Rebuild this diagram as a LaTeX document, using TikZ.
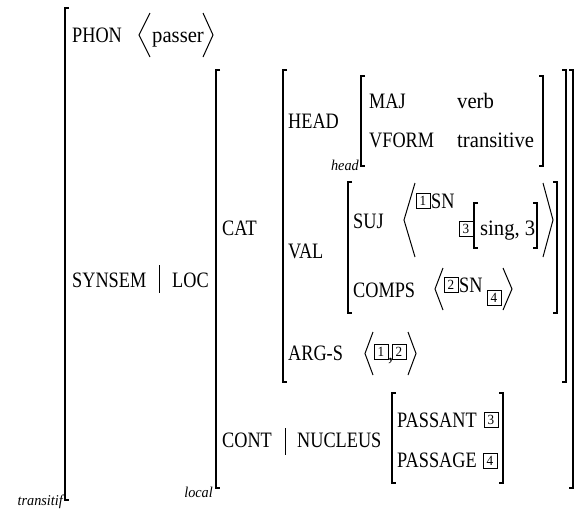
\documentclass[tikz,border=0pt]{standalone}
\usepackage{fontspec}
\setmainfont{Liberation Serif}
\newfontfamily\featfont[FakeStretch=0.83]{Liberation Serif}
\newfontfamily\valfont[FakeStretch=0.94]{Liberation Serif}
\newfontfamily\lblfont[FakeStretch=0.95]{Liberation Serif}
\tikzset{
  feat/.style={anchor=base west, inner sep=0pt, font=\featfont\fontsize{22}{22}\selectfont},
  val/.style={anchor=base west, inner sep=0pt, font=\valfont\fontsize{22}{22}\selectfont},
  lbl/.style={anchor=base east, inner sep=0pt, font=\lblfont\itshape\fontsize{15}{15}\selectfont},
  tag/.style={draw, line width=1pt, inner sep=0pt, minimum width=14pt, minimum height=15pt,
     font=\valfont\fontsize{14}{14}\selectfont},
  brk/.style={line width=1.6pt, line cap=butt, line join=miter},
  sbrk/.style={line width=1.2pt},
  ang/.style={line width=1pt, line join=miter},
  sep/.style={line width=1pt}
}
\newcommand{\LB}[3]{\draw[brk] (#1+4,#2) -- (#1,#2) -- (#1,#3) -- (#1+4,#3);}
\newcommand{\RB}[3]{\draw[brk] (#1-4,#2) -- (#1,#2) -- (#1,#3) -- (#1-4,#3);}
\newcommand{\SLB}[3]{\draw[sbrk] (#1+4,#2) -- (#1,#2) -- (#1,#3) -- (#1+4,#3);}
\newcommand{\SRB}[3]{\draw[sbrk] (#1-4,#2) -- (#1,#2) -- (#1,#3) -- (#1-4,#3);}
\newcommand{\LA}[4]{\draw[ang] (#2,#3) -- (#1,{(#3+#4)/2}) -- (#2,#4);}
\newcommand{\RA}[4]{\draw[ang] (#1,#3) -- (#2,{(#3+#4)/2}) -- (#1,#4);}
\begin{document}
\begin{tikzpicture}[x=1pt,y=-1pt]
\useasboundingbox[fill=white] (0,0) rectangle (576,512);
% outer AVM
\LB{65}{8}{500}
\node[lbl] (ltrans) at (63,505) {transitif};
\node[feat] (phon) at (72,42) {PHON};
\LA{139}{150}{13}{57}
\node[val] (passer) at (152,42) {passer};
\RA{203}{213}{13}{57}
\node[feat] (synsem) at (72,287) {SYNSEM};
\draw[sep] (159,265) -- (159,293);
\node[feat] (loc) at (172,287) {LOC};
% local
\LB{216}{70}{488}
\RB{573}{70}{488}
\node[lbl] (llocal) at (213,497) {local};
\node[feat] (cat) at (222,235) {CAT};
% CAT value
\LB{283}{70}{382}
\RB{566}{70}{382}
\node[feat] (head) at (288,128) {HEAD};
\LB{361}{76}{166}
\RB{543}{76}{166}
\node[lbl] (lhead) at (359,170) {head};
\node[feat] (maj) at (369,108) {MAJ};
\node[val] (verb) at (457,108) {verb};
\node[feat] (vform) at (369,147) {VFORM};
\node[val] (trans) at (457,147) {transitive};
% VAL
\node[feat] (valf) at (288,258) {VAL};
\LB{348}{182}{313}
\RB{557}{182}{313}
\node[feat] (suj) at (353,228) {SUJ};
\LA{404}{415}{183}{257}
\node[tag] (t1a) at (423,201) {1};
\node[feat] (sn1) at (431,208) {SN};
\node[tag] (t3a) at (466,229) {3};
\SLB{474}{203}{248}
\node[val] (sing) at (480,235) {sing, 3};
\SRB{537}{203}{248}
\RA{543}{553}{183}{257}
\node[feat] (comps) at (353,297) {COMPS};
\LA{435}{443}{268}{310}
\node[tag] (t2a) at (451,285) {2};
\node[feat] (sn2) at (459,292) {SN};
\node[tag] (t4a) at (494,298) {4};
\RA{503}{512}{268}{310}
% ARG-S
\node[feat] (args) at (288,360) {ARG-S};
\LA{365}{373}{332}{375}
\node[tag] (t1b) at (381,352) {1};
\node[val] (comma) at (388,360) {,};
\node[tag] (t2b) at (399,352) {2};
\RA{408}{416}{332}{375}
% CONT
\node[feat] (cont) at (222,447) {CONT};
\draw[sep] (285,428) -- (285,455);
\node[feat] (nucleus) at (297,447) {NUCLEUS};
\LB{392}{393}{483}
\RB{503}{393}{483}
\node[feat] (passant) at (397,427) {PASSANT};
\node[tag] (t3b) at (491,420) {3};
\node[feat] (passage) at (397,467) {PASSAGE};
\node[tag] (t4b) at (490,461) {4};
\end{tikzpicture}
\end{document}
